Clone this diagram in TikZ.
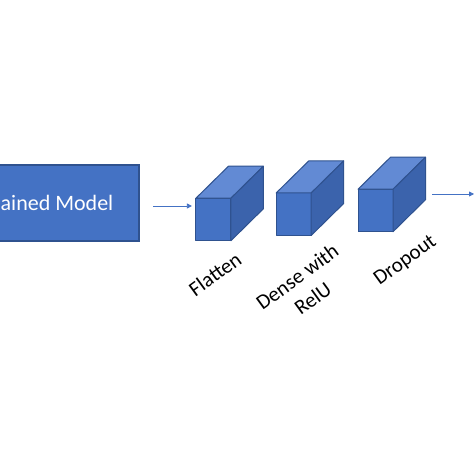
\documentclass[tikz,border=0pt]{standalone}
\usepackage{fontspec}
\setmainfont{Carlito}
\usetikzlibrary{arrows.meta}
\definecolor{obl}{HTML}{4472C4}
\definecolor{obd}{HTML}{2F528F}
\definecolor{otop}{HTML}{628AD4}
\definecolor{oside}{HTML}{3B63AC}
\tikzset{
  boxnode/.style={draw=obd, fill=obl, line width=1.1pt, inner sep=0pt, outer sep=0pt},
  frontface/.style={draw=obd, fill=obl, line width=1pt, line join=round, minimum width=35pt, minimum height=42.5pt, inner sep=0pt, outer sep=0pt},
  topface/.style={draw=obd, fill=otop, line width=1pt, line join=round},
  sideface/.style={draw=obd, fill=oside, line width=1pt, line join=round},
  arr/.style={draw=obl, line width=0.8pt, -{Triangle[length=5pt,width=5pt]}},
  lbl/.style={font=\fontsize{21}{26.5}\selectfont, text=black, rotate=36, align=center, inner sep=0pt},
}
\newcommand\mycube[2]{%
  \node[frontface] (#1) at (#2) {};
  \filldraw[topface] (#1.north west) -- ++(32.5,32) -- ++(35,0) -- (#1.north east) -- cycle;
  \filldraw[sideface] (#1.north east) -- ++(32.5,32) -- ++(0,-42.5) -- (#1.south east) -- cycle;
}
\begin{document}
\begin{tikzpicture}[x=1pt,y=1pt]
\useasboundingbox (0,0) rectangle (474,474);
\clip (0,0) rectangle (474,474);
\fill[white] (0,0) rectangle (474,474);
% pretrained model box
\node[boxnode, minimum width=160pt, minimum height=76pt] (pre) at (59,271) {};
\node[anchor=base west, text=white, font=\fontsize{22}{26}\selectfont, inner sep=0pt] (pretxt) at (0.5,263) {ained Model};
% cubes
\mycube{c1}{213.4,254.5}
\mycube{c2}{293.7,259.8}
\mycube{c3}{375.5,263.5}
% arrows
\draw[arr, shorten <=14pt, shorten >=4pt] ([yshift=-3pt]pre.east) -- ([yshift=-3pt]pre.east -| c1.west);
\coordinate (out) at (474,280);
\draw[arr, shorten <=39pt] (c3.east |- out) -- (out);
% labels
\node[lbl] (l1) at (215,200) {Flatten};
\node[lbl] (l2) at (305,186.5) {Dense with\\RelU};
\node[lbl] (l3) at (405.5,213) {Dropout};
\end{tikzpicture}
\end{document}
